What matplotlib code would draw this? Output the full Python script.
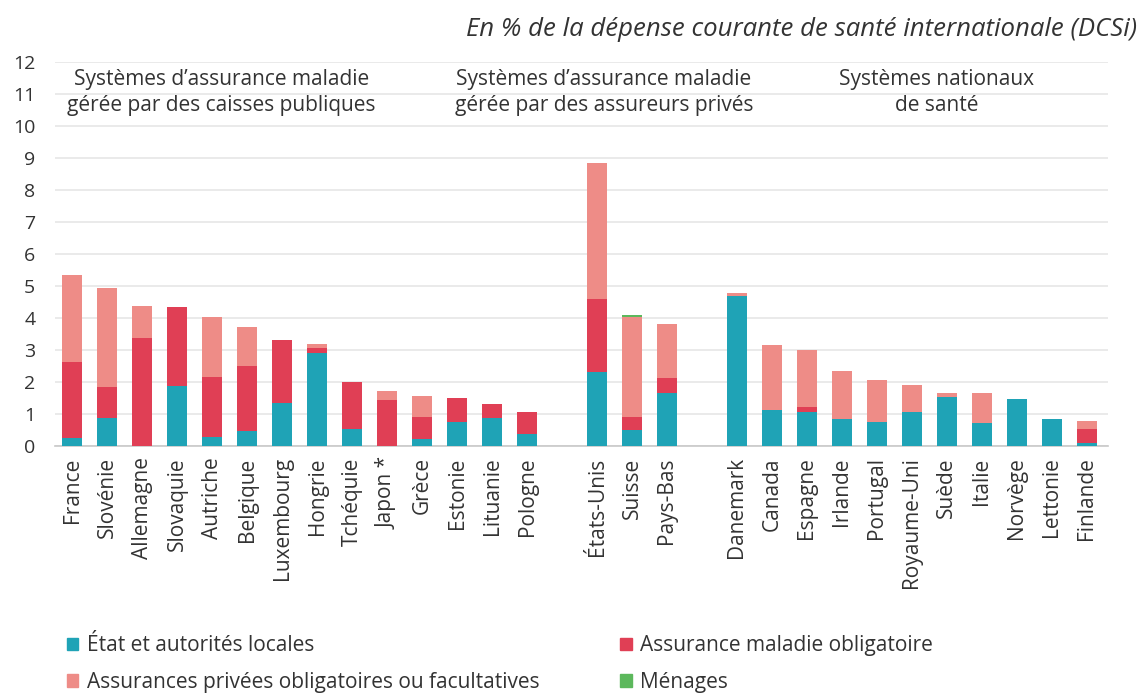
import matplotlib
matplotlib.use("Agg")
import matplotlib.pyplot as plt
from matplotlib.patches import Patch

plt.rcParams['font.family'] = ['Open Sans', 'DejaVu Sans']

# groupes de pays
groupe_publiques = ["France", "Slovénie", "Allemagne", "Slovaquie", "Autriche", "Belgique",
                    "Luxembourg", "Hongrie", "Tchéquie", "Japon *", "Grèce", "Estonie",
                    "Lituanie", "Pologne"]
groupe_prives = ["États-Unis", "Suisse", "Pays-Bas"]
groupe_nationaux = ["Danemark", "Canada", "Espagne", "Irlande", "Portugal", "Royaume-Uni",
                    "Suède", "Italie", "Norvège", "Lettonie", "Finlande"]

# valeurs en % de la DCSi
etat = [0.26, 0.89, 0.0, 1.87, 0.29, 0.46, 1.35, 2.92, 0.54, 0.0, 0.22, 0.77, 0.88, 0.38,
        2.33, 0.49, 1.67,
        4.70, 1.14, 1.07, 0.86, 0.77, 1.06, 1.53, 0.73, 1.46, 0.84, 0.10]
amo = [2.37, 0.97, 3.39, 2.47, 1.87, 2.05, 1.97, 0.16, 1.47, 1.43, 0.70, 0.73, 0.45, 0.70,
       2.26, 0.42, 0.45,
       0.0, 0.0, 0.16, 0.0, 0.0, 0.0, 0.0, 0.0, 0.0, 0.0, 0.45]
privees = [2.72, 3.07, 0.99, 0.0, 1.88, 1.20, 0.0, 0.11, 0.0, 0.29, 0.65, 0.0, 0.0, 0.0,
           4.26, 3.12, 1.70,
           0.08, 2.01, 1.77, 1.50, 1.29, 0.84, 0.14, 0.93, 0.0, 0.0, 0.24]
menages = [0.0] * 14 + [0.0, 0.08, 0.0] + [0.0] * 11

titres_groupes = ["Systèmes d’assurance maladie\ngérée par des caisses publiques",
                  "Systèmes d’assurance maladie\ngérée par des assureurs privés",
                  "Systèmes nationaux\nde santé"]

c_etat = "#1fa3b6"
c_amo = "#e03f55"
c_priv = "#ee8c87"
c_men = "#5cb85c"

# positions : un emplacement vide entre les groupes
pays = []
pos = []
x = 0
for g in [groupe_publiques, groupe_prives, groupe_nationaux]:
    for p in g:
        pays.append(p)
        pos.append(x)
        x += 1
    x += 1

fig = plt.figure(figsize=(11.42, 6.95), dpi=100)
ax = fig.add_axes([0.048, 0.358, 0.922, 0.553])

w = 0.57
bas = [0.0] * len(pays)
for vals, col in [(etat, c_etat), (amo, c_amo), (privees, c_priv), (menages, c_men)]:
    ax.bar(pos, vals, width=w, bottom=bas, color=col, zorder=3)
    bas = [b + v for b, v in zip(bas, vals)]

ax.set_ylim(0, 12)
ax.set_xlim(-0.5, 29.6)
ax.set_yticks(range(0, 13))
ax.grid(axis='y', color="#e6e6e6", linewidth=1.2, zorder=0)
for s in ["top", "right", "left"]:
    ax.spines[s].set_visible(False)
ax.spines["bottom"].set_color("#c8c8c8")
ax.spines["bottom"].set_linewidth(1.2)
ax.tick_params(axis='both', length=0, colors="#333333")
ax.tick_params(axis='y', pad=14, labelsize=14)
ax.tick_params(axis='x', pad=8, labelsize=15)
ax.set_xticks(pos)
ax.set_xticklabels(pays, rotation=90)

centres_txt = [4.27, 15.2, 24.7]
for cx, t in zip(centres_txt, titres_groupes):
    ax.text(cx, 11.05, t, ha='center', va='center', fontsize=15, color="#333333",
            linespacing=1.3, zorder=4)

fig.text(0.996, 0.958, "En % de la dépense courante de santé internationale (DCSi)",
         ha='right', va='center', fontsize=18.5, style='italic', color="#333333")

handles = [Patch(color=c_etat, label="État et autorités locales"),
           Patch(color=c_priv, label="Assurances privées obligatoires ou facultatives"),
           Patch(color=c_amo, label="Assurance maladie obligatoire"),
           Patch(color=c_men, label="Ménages")]
fig.legend(handles=handles, ncol=2, loc='lower left', bbox_to_anchor=(0.042, -0.024),
           frameon=False, fontsize=15, handlelength=0.55, handleheight=0.55,
           handletextpad=0.4, columnspacing=3.9, labelspacing=0.75, labelcolor="#333333")

fig.savefig("out.png", dpi=100)
